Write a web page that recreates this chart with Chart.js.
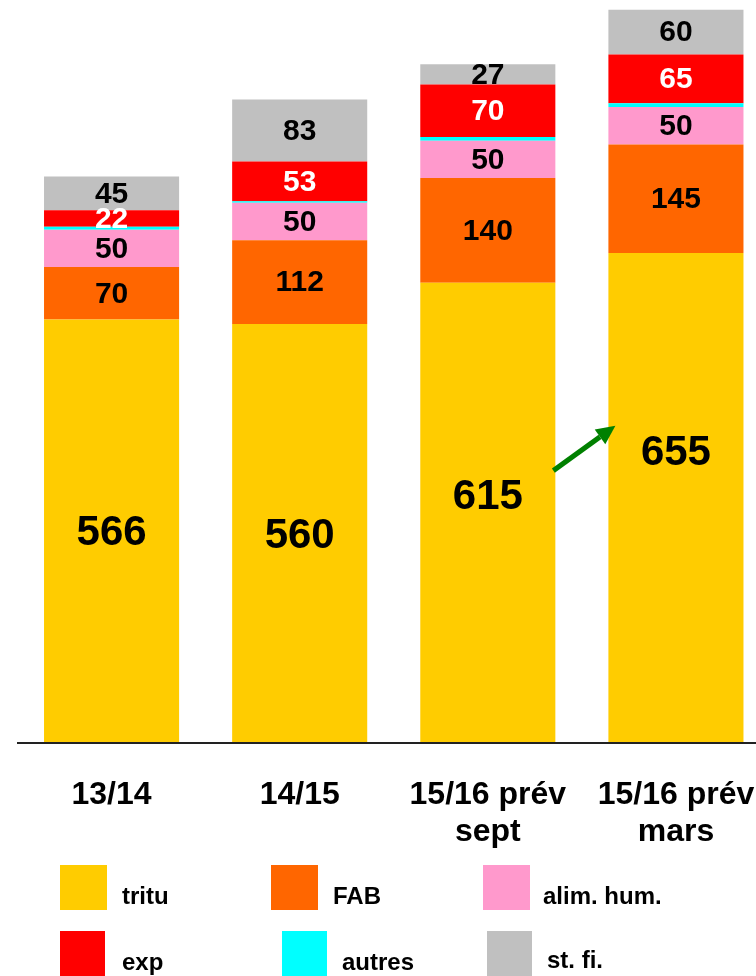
<!DOCTYPE html>
<html>
<head>
<meta charset="utf-8">
<script src="https://cdn.jsdelivr.net/npm/chart.js@4"></script>
<style>
  html, body { margin: 0; padding: 0; background: #fff; overflow: hidden; width: 756px; height: 976px; }
  #wrap { position: absolute; left: 0; top: 0; width: 770px; height: 976px; }
  #legend { position: absolute; left: 0; top: 0; width: 756px; height: 976px; pointer-events: none; }
  .lg-box { position: absolute; }
  .lg-text { position: absolute; font-family: "Liberation Sans", Arial, sans-serif; font-weight: bold; font-size: 24px; line-height: 24px; color: #000; white-space: nowrap; }
</style>
</head>
<body>
<div id="wrap"><canvas id="c"></canvas></div>
<div id="legend"></div>
<script>
// ---- data ----
const categories = [["13/14"], ["14/15"], ["15/16 prév", "sept"], ["15/16 prév", "mars"]];
const seriesNames = ["tritu", "FAB", "alim. hum.", "autres", "exp", "st. fi."];
const tritu   = [566, 560, 615, 655];
const fab     = [70, 112, 140, 145];
const alimHum = [50, 50, 50, 50];
const autres  = [4, 2, 5, 5];
const exp     = [22, 53, 70, 65];
const stFi    = [45, 83, 27, 60];

// ---- styles ----
const colors = ["#FFCC00", "#FF6600", "#FF99CC", "#00FFFF", "#FF0000", "#C0C0C0"];
const labelColors = ["#000", "#000", "#000", null, "#fff", "#000"];
const FONT = '"Liberation Sans", Arial, sans-serif';

const seriesValues = [tritu, fab, alimHum, autres, exp, stFi];

const datasets = seriesValues.map((vals, i) => ({
  label: seriesNames[i],
  data: vals,
  backgroundColor: colors[i],
  borderWidth: 0,
  barPercentage: 0.718,
  categoryPercentage: 1.0
}));

const valueLabels = {
  id: 'valueLabels',
  afterDatasetsDraw(chart, args, opts) {
    const ctx = chart.ctx;
    ctx.save();
    ctx.textAlign = 'center';
    ctx.textBaseline = 'middle';
    chart.data.datasets.forEach((ds, di) => {
      const col = opts.colors[di];
      if (!col) return;
      const meta = chart.getDatasetMeta(di);
      meta.data.forEach((bar, idx) => {
        const p = bar.getProps(['x', 'y', 'base'], true);
        let cy = (p.y + p.base) / 2;
        if (di === 0) cy += opts.mainOffsets[idx];
        ctx.fillStyle = col;
        ctx.font = 'bold ' + (di === 0 ? opts.mainSize : opts.size) + 'px ' + FONT;
        ctx.fillText(String(ds.data[idx]), p.x, cy + 1);
      });
    });
    ctx.restore();
  }
};

const arrowPlugin = {
  id: 'arrowPlugin',
  afterDatasetsDraw(chart, args, opts) {
    const meta = chart.getDatasetMeta(0);
    const yS = chart.scales.y;
    const b1 = meta.data[opts.fromIndex].getProps(['x', 'width'], true);
    const b2 = meta.data[opts.toIndex].getProps(['x', 'width'], true);
    const x1 = b1.x + b1.width / 2 - 2;
    const y1 = yS.getPixelForValue(opts.fromValue);
    const x2 = b2.x - b2.width / 2 + 7;
    const y2 = yS.getPixelForValue(opts.toValue);
    const ctx = chart.ctx;
    const ang = Math.atan2(y2 - y1, x2 - x1);
    const headLen = 19, headW = 9;
    const bx = x2 - headLen * Math.cos(ang), by = y2 - headLen * Math.sin(ang);
    ctx.save();
    ctx.strokeStyle = opts.color;
    ctx.fillStyle = opts.color;
    ctx.lineWidth = 5;
    ctx.beginPath();
    ctx.moveTo(x1, y1);
    ctx.lineTo(bx, by);
    ctx.stroke();
    ctx.beginPath();
    ctx.moveTo(x2, y2);
    ctx.lineTo(bx + headW * Math.sin(ang), by - headW * Math.cos(ang));
    ctx.lineTo(bx - headW * Math.sin(ang), by + headW * Math.cos(ang));
    ctx.closePath();
    ctx.fill();
    ctx.restore();
  }
};

new Chart(document.getElementById('c'), {
  type: 'bar',
  data: { labels: categories, datasets },
  options: {
    responsive: true,
    maintainAspectRatio: false,
    animation: false,
    events: [],
    layout: { padding: { left: 17.5, right: 0, top: 0, bottom: 0 } },
    plugins: {
      legend: { display: false },
      tooltip: { enabled: false },
      valueLabels: { colors: labelColors, size: 30, mainSize: 42, mainOffsets: [1, 2, -16, -46] },
      arrowPlugin: { fromIndex: 2, toIndex: 3, fromValue: 364, toValue: 424, color: '#008000' }
    },
    scales: {
      x: {
        stacked: true,
        grid: { display: false, drawTicks: false },
        border: { display: true, color: '#222', width: 2, z: 1 },
        ticks: {
          color: '#000',
          font: { family: FONT, weight: 'bold', size: 32, lineHeight: 1.15 },
          padding: 34,
          maxRotation: 0,
          minRotation: 0,
          autoSkip: false
        },
        afterFit(scale) {
          scale.height = 233;
          scale.paddingLeft = 0;
          scale.paddingRight = 0;
        }
      },
      y: {
        stacked: true,
        display: false,
        min: 0,
        max: 993
      }
    }
  },
  plugins: [valueLabels, arrowPlugin]
});

// ---- legend (HTML) ----
const legendOrder = [0, 1, 2, 4, 3, 5];
const legendLayout = [
  { bx: 60,  by: 865, bw: 47, bh: 45, tx: 122, ty: 884 },
  { bx: 271, by: 865, bw: 47, bh: 45, tx: 333, ty: 884 },
  { bx: 483, by: 865, bw: 47, bh: 45, tx: 543, ty: 884 },
  { bx: 60,  by: 931, bw: 45, bh: 45, tx: 122, ty: 950 },
  { bx: 282, by: 931, bw: 45, bh: 45, tx: 342, ty: 950 },
  { bx: 487, by: 931, bw: 45, bh: 45, tx: 547, ty: 948 }
];
const legendEl = document.getElementById('legend');
legendOrder.forEach((si, k) => {
  const L = legendLayout[k];
  const box = document.createElement('div');
  box.className = 'lg-box';
  box.style.cssText = `left:${L.bx}px;top:${L.by}px;width:${L.bw}px;height:${L.bh}px;background:${colors[si]};`;
  const txt = document.createElement('div');
  txt.className = 'lg-text';
  txt.style.left = L.tx + 'px';
  txt.style.top = L.ty + 'px';
  txt.textContent = seriesNames[si];
  legendEl.appendChild(box);
  legendEl.appendChild(txt);
});
</script>
</body>
</html>
